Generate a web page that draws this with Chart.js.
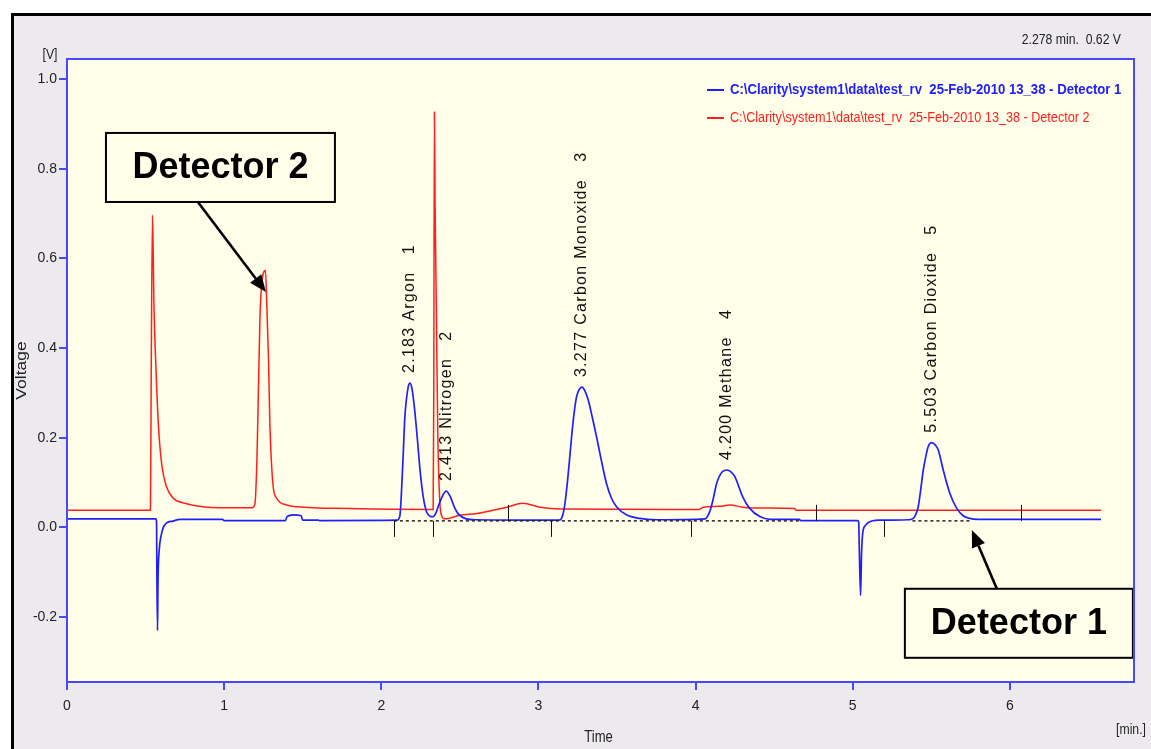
<!DOCTYPE html>
<html>
<head>
<meta charset="utf-8">
<title>Chromatogram - test_rv 25-Feb-2010</title>
<script src="https://cdn.jsdelivr.net/npm/chart.js@4.4.1/dist/chart.umd.min.js"></script>
<style>
  html, body { margin: 0; padding: 0; background: #ffffff; }
  #wrap { position: relative; width: 1151px; height: 749px; overflow: hidden; }
  #frame { position: absolute; left: 11px; top: 13px; right: 0; bottom: 0;
           background: #EDEAEE; border-left: 3px solid #000; border-top: 3px solid #000; }
  canvas { position: absolute; left: 0; top: 0; }
</style>
</head>
<body>
<div id="wrap">
  <div id="frame"></div>
  <canvas id="c" width="1151" height="749"></canvas>
</div>
<script>
// Detector 1 trace: [retention time (min), signal (V)]
const det1Points = [
  [0, 0.019], [0.566, 0.019], [0.570, 0.012], [0.572, -0.11], [0.576, -0.23], [0.579, -0.12],
  [0.587, -0.05], [0.598, -0.02], [0.613, 0.0], [0.634, 0.01], [0.674, 0.014], [0.72, 0.018],
  [0.99, 0.018], [1.00, 0.015], [1.39, 0.015], [1.40, 0.024], [1.44, 0.028], [1.49, 0.026],
  [1.50, 0.016], [1.60, 0.016], [1.61, 0.015], [2.10, 0.016], [2.118, 0.025], [2.136, 0.135],
  [2.15, 0.246], [2.171, 0.313], [2.183, 0.322], [2.195, 0.31], [2.21, 0.27], [2.229, 0.2],
  [2.246, 0.13], [2.267, 0.068], [2.288, 0.035], [2.31, 0.025], [2.33, 0.024], [2.345, 0.03],
  [2.362, 0.046], [2.384, 0.066], [2.413, 0.081], [2.44, 0.068], [2.465, 0.045], [2.49, 0.03],
  [2.54, 0.019], [2.60, 0.017], [3.13, 0.016], [3.147, 0.02], [3.163, 0.04], [3.179, 0.083],
  [3.195, 0.14], [3.211, 0.202], [3.227, 0.255], [3.243, 0.292], [3.26, 0.308], [3.277, 0.313],
  [3.295, 0.305], [3.317, 0.284], [3.343, 0.245], [3.37, 0.202], [3.40, 0.15], [3.433, 0.098],
  [3.465, 0.065], [3.497, 0.046], [3.56, 0.028], [3.645, 0.02], [3.75, 0.017], [4.06, 0.019],
  [4.09, 0.035], [4.11, 0.06], [4.134, 0.098], [4.17, 0.124], [4.20, 0.128], [4.225, 0.124],
  [4.25, 0.113], [4.30, 0.068], [4.343, 0.043], [4.409, 0.024], [4.473, 0.018], [4.66, 0.018],
  [4.67, 0.015], [5.03, 0.015], [5.038, 0.012], [5.042, -0.05], [5.05, -0.152], [5.056, -0.06],
  [5.064, -0.012], [5.08, 0.004], [5.10, 0.011], [5.17, 0.016], [5.36, 0.017], [5.385, 0.02],
  [5.40, 0.028], [5.417, 0.046], [5.433, 0.085], [5.449, 0.128], [5.465, 0.158], [5.48, 0.18],
  [5.503, 0.189], [5.525, 0.184], [5.544, 0.173], [5.576, 0.128], [5.618, 0.076], [5.661, 0.043],
  [5.703, 0.026], [5.745, 0.02], [5.80, 0.018], [6.58, 0.018]
];

// Detector 2 trace: [retention time (min), signal (V)]
const det2Points = [
  [0, 0.038], [0.531, 0.038], [0.536, 0.35], [0.544, 0.697], [0.549, 0.6], [0.553, 0.5],
  [0.566, 0.357], [0.581, 0.232], [0.602, 0.143], [0.634, 0.09], [0.676, 0.065], [0.75, 0.054],
  [0.866, 0.046], [0.973, 0.044], [1.18, 0.044], [1.196, 0.053], [1.209, 0.156], [1.218, 0.305],
  [1.228, 0.468], [1.24, 0.546], [1.263, 0.573], [1.272, 0.49], [1.282, 0.379], [1.291, 0.232],
  [1.31, 0.098], [1.334, 0.065], [1.398, 0.05], [1.46, 0.046], [1.8, 0.042], [2.33, 0.040],
  [2.334, 0.30], [2.338, 0.927], [2.342, 0.73], [2.35, 0.5], [2.36, 0.2], [2.372, 0.06],
  [2.385, 0.025], [2.405, 0.019], [2.5, 0.027], [2.609, 0.031], [2.711, 0.038], [2.8, 0.045],
  [2.901, 0.054], [3.009, 0.045], [3.149, 0.041], [4.02, 0.04], [4.05, 0.045], [4.15, 0.047],
  [4.22, 0.05], [4.30, 0.045], [4.45, 0.043], [4.63, 0.042], [4.64, 0.038], [6.58, 0.038]
];

const seriesNames = [
  'C:\\Clarity\\system1\\data\\test_rv  25-Feb-2010 13_38 - Detector 1',
  'C:\\Clarity\\system1\\data\\test_rv  25-Feb-2010 13_38 - Detector 2'
];

const xTicks = [0, 1, 2, 3, 4, 5, 6];
const yTicks = [-0.2, 0.0, 0.2, 0.4, 0.6, 0.8, 1.0];

// identified peaks on detector 1
const peakTimes = [2.183, 2.413, 3.277, 4.200, 5.503];
const peakNames = ['Argon', 'Nitrogen', 'Carbon Monoxide', 'Methane', 'Carbon Dioxide'];
const peakNumbers = [1, 2, 3, 4, 5];

// integration baseline and peak delimiters on detector 1
const baselineLevel = 0.0145;
const baselineSegments = [[2.08, 4.66], [5.38, 5.75]];
const delimiterTimes = [2.08, 2.328, 2.805, 3.079, 3.969, 4.765, 5.197, 6.069];
const delimiterSides = ['down', 'down', 'up', 'down', 'down', 'up', 'down', 'up'];

const cursorReadout = '2.278 min.  0.62 V';

// call-out boxes, anchored in axis units
const callouts = [
  { label: 'Detector 2', box: [0.248, 1.705, 0.880, 0.726], tail: [0.833, 0.726], head: [1.266, 0.525] },
  { label: 'Detector 1', box: [5.332, 6.783, -0.137, -0.291], tail: [5.917, -0.137], head: [5.758, -0.006] }
];

const FONT_SANS = '"Liberation Sans", Arial, Helvetica, sans-serif';
const NARROW = 0.815;           // horizontal squeeze of the instrument's condensed font
const BLUE = '#2020ff';
const RED = '#ff1f1f';
const AXIS_BLUE = '#4848ff';
const PLOT_BG = '#FFFEE8';
const TEXT = '#222222';

// text drawn with a horizontal squeeze (condensed look)
function narrowText(ctx, text, x, y, font, color, align, squeeze) {
  ctx.save();
  ctx.translate(x, y);
  ctx.scale(squeeze || NARROW, 1);
  ctx.font = font;
  ctx.fillStyle = color;
  ctx.textAlign = align;
  ctx.textBaseline = 'middle';
  ctx.fillText(text, 0, 0);
  ctx.restore();
}

const chromPlugin = {
  id: 'chrom',
  beforeDraw(chart) {
    const { ctx, chartArea: a } = chart;
    ctx.save();
    ctx.fillStyle = PLOT_BG;
    ctx.fillRect(a.left, a.top, a.right - a.left, a.bottom - a.top);
    ctx.restore();
  },
  afterDatasetsDraw(chart) {
    const { ctx, scales: { x: xs, y: ys } } = chart;
    const by = ys.getPixelForValue(baselineLevel);

    // dashed integration baseline
    ctx.save();
    ctx.strokeStyle = '#222';
    ctx.lineWidth = 1.5;
    ctx.setLineDash([3, 3]);
    baselineSegments.forEach(([t0, t1]) => {
      ctx.beginPath();
      ctx.moveTo(xs.getPixelForValue(t0), by);
      ctx.lineTo(xs.getPixelForValue(t1), by);
      ctx.stroke();
    });
    ctx.restore();

    // peak start / end delimiters
    ctx.save();
    ctx.strokeStyle = '#111';
    ctx.lineWidth = 1;
    delimiterTimes.forEach((t, i) => {
      const px = Math.round(xs.getPixelForValue(t)) + 0.5;
      ctx.beginPath();
      ctx.moveTo(px, by);
      ctx.lineTo(px, delimiterSides[i] === 'down' ? by + 16 : by - 16);
      ctx.stroke();
    });
    ctx.restore();

    // peak labels, written upward above each apex
    peakTimes.forEach((t, i) => {
      const apex = det1Points.find(p => p[0] === t)[1];
      const px = xs.getPixelForValue(t);
      const py = ys.getPixelForValue(apex) - 10;
      ctx.save();
      ctx.translate(px, py);
      ctx.rotate(-Math.PI / 2);
      ctx.font = '16px ' + FONT_SANS;
      if ('letterSpacing' in ctx) ctx.letterSpacing = '1.3px';
      ctx.textAlign = 'left';
      ctx.textBaseline = 'middle';
      ctx.fillStyle = '#111';
      ctx.fillText(t.toFixed(3) + ' ' + peakNames[i] + '   ' + peakNumbers[i], 0, 0);
      ctx.restore();
    });

    // call-outs with arrows
    callouts.forEach(c => {
      const x0 = xs.getPixelForValue(c.box[0]), x1 = xs.getPixelForValue(c.box[1]);
      const y0 = ys.getPixelForValue(c.box[2]), y1 = ys.getPixelForValue(c.box[3]);
      const tx = xs.getPixelForValue(c.tail[0]), ty = ys.getPixelForValue(c.tail[1]);
      const hx = xs.getPixelForValue(c.head[0]), hy = ys.getPixelForValue(c.head[1]);
      const ang = Math.atan2(hy - ty, hx - tx);
      const len = 17, half = 7;
      const bx = hx - len * Math.cos(ang), byy = hy - len * Math.sin(ang);
      ctx.save();
      ctx.strokeStyle = '#000';
      ctx.fillStyle = '#000';
      ctx.lineWidth = 2.6;
      ctx.beginPath();
      ctx.moveTo(tx, ty);
      ctx.lineTo(bx, byy);
      ctx.stroke();
      ctx.beginPath();
      ctx.moveTo(hx, hy);
      ctx.lineTo(bx + half * Math.sin(ang), byy - half * Math.cos(ang));
      ctx.lineTo(bx - half * Math.sin(ang), byy + half * Math.cos(ang));
      ctx.closePath();
      ctx.fill();
      ctx.fillStyle = PLOT_BG;
      ctx.fillRect(x0, y0, x1 - x0, y1 - y0);
      ctx.lineWidth = 2;
      ctx.strokeRect(x0, y0, x1 - x0, y1 - y0);
      ctx.fillStyle = '#000';
      ctx.font = 'bold 36px ' + FONT_SANS;
      ctx.textAlign = 'center';
      ctx.textBaseline = 'middle';
      ctx.fillText(c.label, (x0 + x1) / 2, (y0 + y1) / 2 + 1);
      ctx.restore();
    });
  },
  afterDraw(chart) {
    const { ctx, chartArea: a } = chart;
    ctx.save();
    // plot frame
    ctx.strokeStyle = AXIS_BLUE;
    ctx.lineWidth = 2;
    ctx.strokeRect(a.left, a.top, a.right - a.left, a.bottom - a.top);

    // legend
    const lx = a.left + 640, ly = [a.top + 31, a.top + 59];
    [BLUE, RED].forEach((col, i) => {
      ctx.strokeStyle = col;
      ctx.lineWidth = 2;
      ctx.beginPath();
      ctx.moveTo(lx, ly[i]);
      ctx.lineTo(lx + 17, ly[i]);
      ctx.stroke();
      narrowText(ctx, seriesNames[i], lx + 23, ly[i], (i === 0 ? 'bold ' : '') + '15.5px ' + FONT_SANS,
                 col, 'left', i === 0 ? NARROW * 1.04 : NARROW);
    });

    // cursor readout, unit labels and axis titles
    narrowText(ctx, cursorReadout, a.right - 13, 40, '15px ' + FONT_SANS, TEXT, 'right');
    narrowText(ctx, '[V]', a.left - 17, 55, '15px ' + FONT_SANS, TEXT, 'center');
    narrowText(ctx, '[min.]', a.right - 3, 730, '15px ' + FONT_SANS, TEXT, 'center');
    narrowText(ctx, 'Time', (a.left + a.right) / 2 - 2, 738, '16px ' + FONT_SANS, TEXT, 'center');

    ctx.translate(22, (a.top + a.bottom) / 2);
    ctx.rotate(-Math.PI / 2);
    ctx.scale(1.25, 1);
    ctx.font = '14px ' + FONT_SANS;
    ctx.fillStyle = TEXT;
    ctx.textAlign = 'center';
    ctx.textBaseline = 'middle';
    ctx.fillText('Voltage', 0, 0);
    ctx.restore();
  }
};

new Chart(document.getElementById('c'), {
  type: 'line',
  data: {
    datasets: [
      { label: seriesNames[0], data: det1Points.map(([x, y]) => ({ x, y })), borderColor: BLUE,
        borderWidth: 1.7, pointRadius: 0, cubicInterpolationMode: 'monotone', order: 0 },
      { label: seriesNames[1], data: det2Points.map(([x, y]) => ({ x, y })), borderColor: RED,
        borderWidth: 1.5, pointRadius: 0, cubicInterpolationMode: 'monotone', order: 1 }
    ]
  },
  options: {
    responsive: false,
    animation: false,
    devicePixelRatio: 1,
    events: [],
    layout: { padding: { left: 0, top: 59, right: 17, bottom: 0 } },
    plugins: { legend: { display: false }, tooltip: { enabled: false } },
    scales: {
      x: {
        type: 'linear', min: 0, max: 6.79,
        afterBuildTicks: s => { s.ticks = xTicks.map(v => ({ value: v })); },
        afterFit: s => { s.height = 67; },
        grid: { drawOnChartArea: false, drawTicks: true, tickLength: 8, color: AXIS_BLUE, lineWidth: 2 },
        border: { display: false },
        ticks: { color: TEXT, font: { family: FONT_SANS, size: 14 }, padding: 8, maxRotation: 0,
                 callback: v => String(v) },
        title: { display: false, text: 'Time' }
      },
      y: {
        type: 'linear', min: -0.345, max: 1.045,
        afterBuildTicks: s => { s.ticks = yTicks.map(v => ({ value: v })); },
        afterFit: s => { s.width = 67; },
        grid: { drawOnChartArea: false, drawTicks: true, tickLength: 8, color: AXIS_BLUE, lineWidth: 2 },
        border: { display: false },
        ticks: { color: TEXT, font: { family: FONT_SANS, size: 14 }, padding: 2,
                 callback: v => v.toFixed(1) },
        title: { display: false, text: 'Voltage' }
      }
    }
  },
  plugins: [chromPlugin]
});
</script>
</body>
</html>
